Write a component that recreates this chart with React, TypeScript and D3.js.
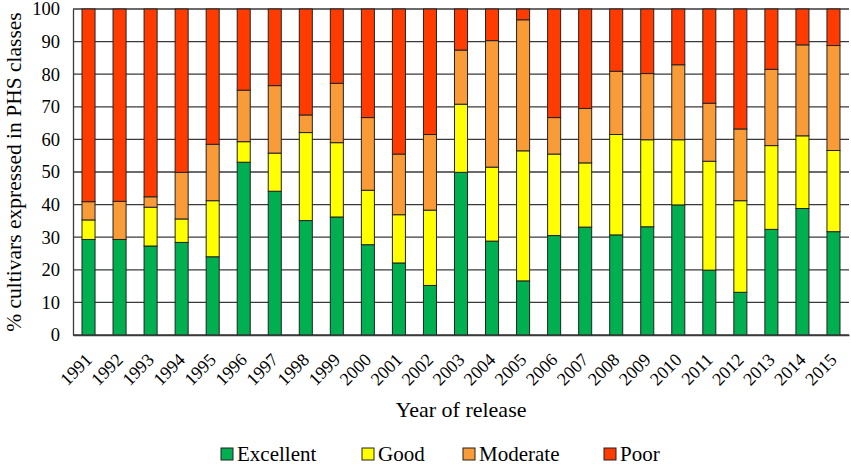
import React, { useEffect, useRef } from "react";
import * as d3 from "d3";

// cumulative tops, converted to class shares below
const years = [
  "1991", "1992", "1993", "1994", "1995", "1996", "1997", "1998", "1999",
  "2000", "2001", "2002", "2003", "2004", "2005", "2006", "2007", "2008",
  "2009", "2010", "2011", "2012", "2013", "2014", "2015",
];
const excellent = [
  29.3, 29.3, 27.3, 28.4, 24.0, 53.0, 44.1, 35.1, 36.2, 27.7, 22.1, 15.2, 49.9,
  28.8, 16.6, 30.5, 33.1, 30.7, 33.2, 39.9, 19.9, 13.1, 32.4, 38.8, 31.7,
];
const good = [
  6.0, 0.0, 11.9, 7.2, 17.2, 6.3, 11.7, 27.0, 22.8, 16.7, 14.8, 23.1, 20.9,
  22.7, 39.9, 25.0, 19.7, 30.8, 26.7, 20.0, 33.4, 28.1, 25.7, 22.3, 24.9,
];
const moderate = [
  5.6, 11.7, 3.2, 14.3, 17.3, 15.8, 20.7, 5.4, 18.2, 22.3, 18.6, 23.2, 16.6,
  38.8, 40.2, 11.2, 16.7, 19.4, 20.3, 23.0, 17.8, 22.0, 23.4, 27.9, 32.2,
];
const poor = excellent.map((e, i) => 100 - e - good[i] - moderate[i]);

const classNames = ["Excellent", "Good", "Moderate", "Poor"];
const classColors = ["#00b050", "#ffff00", "#f99b36", "#ff3b00"];
const yTicks = [0, 10, 20, 30, 40, 50, 60, 70, 80, 90, 100];

const App: React.FC = () => {
  const svgRef = useRef<SVGSVGElement>(null);
  const width = 851;
  const height = 465;
  const margin = { top: 9, right: 2, bottom: 130, left: 73 };
  const font = "'Liberation Serif', 'Times New Roman', Times, serif";

  useEffect(() => {
    const svg = d3.select(svgRef.current);
    svg.selectAll("*").remove();

    const rows = years.map((year, i) => ({
      year,
      Excellent: excellent[i],
      Good: good[i],
      Moderate: moderate[i],
      Poor: poor[i],
    }));

    const x = d3.scaleBand()
      .domain(years)
      .range([margin.left, width - margin.right])
      .paddingInner(0.58)
      .paddingOuter(0.29);
    const y = d3.scaleLinear()
      .domain([0, 100])
      .range([height - margin.bottom, margin.top]);

    // gridlines
    svg.append("g")
      .selectAll("line")
      .data(yTicks)
      .enter()
      .append("line")
      .attr("x1", margin.left)
      .attr("x2", width - margin.right)
      .attr("y1", (d) => y(d))
      .attr("y2", (d) => y(d))
      .attr("stroke", "#3a3a3a")
      .attr("stroke-width", 1.3);

    const stack = d3.stack<any>().keys(classNames);
    const series = stack(rows);

    svg.append("g")
      .selectAll("g")
      .data(series)
      .enter()
      .append("g")
      .attr("fill", (_d, i) => classColors[i])
      .selectAll("rect")
      .data((d) => d.filter((p) => p[1] - p[0] > 0))
      .enter()
      .append("rect")
      .attr("x", (d) => x(d.data.year)!)
      .attr("y", (d) => y(d[1]))
      .attr("width", x.bandwidth())
      .attr("height", (d) => y(d[0]) - y(d[1]))
      .attr("stroke", "#222")
      .attr("stroke-width", 1);

    // axes
    const yAxis = svg.append("g")
      .attr("transform", `translate(${margin.left},0)`)
      .call(d3.axisLeft(y).tickValues(yTicks).tickSize(0).tickPadding(13));
    yAxis.attr("font-family", null).attr("font-size", null);
    yAxis.select(".domain").attr("stroke", "#3a3a3a").attr("stroke-width", 1.3);
    yAxis.selectAll("text")
      .style("font-family", font)
      .style("font-size", "18.5px")
      .attr("fill", "#000");

    const xAxis = svg.append("g")
      .attr("transform", `translate(0,${height - margin.bottom})`)
      .call(d3.axisBottom(x).tickSize(0));
    xAxis.attr("font-family", null).attr("font-size", null);
    xAxis.select(".domain").attr("stroke", "#3a3a3a").attr("stroke-width", 1.3);
    xAxis.selectAll("text")
      .style("font-family", font)
      .style("font-size", "18px")
      .attr("fill", "#000")
      .attr("text-anchor", "end")
      .attr("dy", "0")
      .attr("y", 0)
      .attr("transform", "translate(4.5,26) rotate(-45)");

    // axis titles
    svg.append("text")
      .attr("x", (margin.left + width - margin.right) / 2)
      .attr("y", 417)
      .attr("text-anchor", "middle")
      .style("font-family", font)
      .style("font-size", "22px")
      .text("Year of release");

    svg.append("text")
      .attr("transform", `translate(21,${(margin.top + height - margin.bottom) / 2}) rotate(-90)`)
      .attr("text-anchor", "middle")
      .style("font-family", font)
      .style("font-size", "21.5px")
      .text("% cultivars expressed in PHS classes");

    // legend
    const legendX = [221, 362, 463, 604];
    const legend = svg.append("g")
      .selectAll("g")
      .data(classNames)
      .enter()
      .append("g")
      .attr("transform", (_d, i) => `translate(${legendX[i]},448)`);
    legend.append("rect")
      .attr("width", 12)
      .attr("height", 12)
      .attr("fill", (_d, i) => classColors[i])
      .attr("stroke", "#222")
      .attr("stroke-width", 1);
    legend.append("text")
      .attr("x", 16)
      .attr("y", 12.5)
      .style("font-family", font)
      .style("font-size", "21px")
      .text((d) => d);
  }, []);

  return (
    <svg
      ref={svgRef}
      width={width}
      height={height}
      style={{ position: "absolute", left: 0, top: 0, background: "#fff" }}
    ></svg>
  );
};

export default App;
